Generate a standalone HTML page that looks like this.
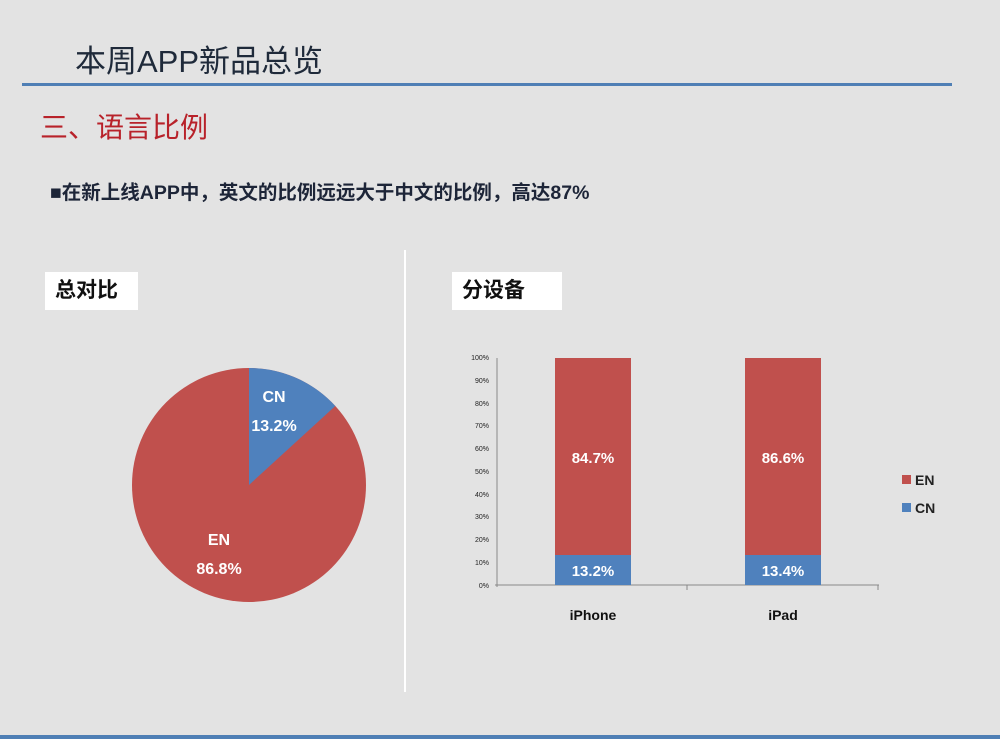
<!DOCTYPE html>
<html><head><meta charset="utf-8"><style>
body{margin:0;width:1000px;height:739px;background:#e3e3e3;position:relative;overflow:hidden;font-family:"Liberation Sans","Noto Sans CJK SC",sans-serif}
.a{position:absolute}
</style></head><body>
<div class="a" style="left:75px;top:36px;font-size:31px;color:#1f2a3a">本周APP新品总览</div>
<div class="a" style="left:22px;top:83px;width:930px;height:3px;background:#4f7fb5"></div>
<div class="a" style="left:40px;top:106px;font-size:28px;color:#b8222a">三、语言比例</div>
<div class="a" style="left:50px;top:176px;font-size:19.5px;font-weight:bold;color:#1d2538">■在新上线APP中，英文的比例远远大于中文的比例，高达87%</div>
<div class="a" style="left:404px;top:250px;width:2px;height:442px;background:#fff"></div>
<div class="a" style="left:45px;top:272px;width:93px;height:38px;background:#fff;font-size:21px;font-weight:bold;line-height:38px;text-indent:10px;color:#111">总对比</div>
<div class="a" style="left:452px;top:272px;width:110px;height:38px;background:#fff;font-size:21px;font-weight:bold;line-height:38px;text-indent:10px;color:#111">分设备</div>
<div class="a" style="left:0;top:735px;width:1000px;height:4px;background:#4f7fb5"></div>
<svg class="a" style="left:0;top:0" width="1000" height="739" font-family="Liberation Sans, sans-serif">
<circle cx="249" cy="485" r="117" fill="#c0504d"/>
<path d="M249 485 L249 368 A117 117 0 0 1 335.3 406 Z" fill="#4f81bd"/>
<g fill="#fff" font-weight="bold" font-size="16" text-anchor="middle">
<text x="274" y="402">CN</text><text x="274" y="431">13.2%</text>
<text x="219" y="545">EN</text><text x="219" y="574">86.8%</text>
</g>
<line x1="497" y1="358" x2="497" y2="587" stroke="#888"/>
<line x1="495" y1="585" x2="879" y2="585" stroke="#888"/>
<line x1="687" y1="585" x2="687" y2="590" stroke="#888"/>
<line x1="878" y1="585" x2="878" y2="590" stroke="#888"/>
<g font-size="7" fill="#222" text-anchor="end">
<text x="489" y="360">100%</text><text x="489" y="383">90%</text><text x="489" y="406">80%</text><text x="489" y="428">70%</text><text x="489" y="451">60%</text><text x="489" y="474">50%</text><text x="489" y="497">40%</text><text x="489" y="519">30%</text><text x="489" y="542">20%</text><text x="489" y="565">10%</text><text x="489" y="588">0%</text>
</g>
<rect x="555" y="358" width="76" height="197" fill="#c0504d"/>
<rect x="555" y="555" width="76" height="30" fill="#4f81bd"/>
<rect x="745" y="358" width="76" height="197" fill="#c0504d"/>
<rect x="745" y="555" width="76" height="30" fill="#4f81bd"/>
<g fill="#fff" font-weight="bold" font-size="15" text-anchor="middle">
<text x="593" y="463">84.7%</text><text x="593" y="576">13.2%</text>
<text x="783" y="463">86.6%</text><text x="783" y="576">13.4%</text>
</g>
<g font-weight="bold" font-size="14" text-anchor="middle" fill="#111">
<text x="593" y="620">iPhone</text><text x="783" y="620">iPad</text>
</g>
<rect x="902" y="475" width="9" height="9" fill="#c0504d"/>
<rect x="902" y="503" width="9" height="9" fill="#4f81bd"/>
<g font-size="14" font-weight="bold" fill="#222"><text x="915" y="485">EN</text><text x="915" y="513">CN</text></g>
</svg>
</body></html>
